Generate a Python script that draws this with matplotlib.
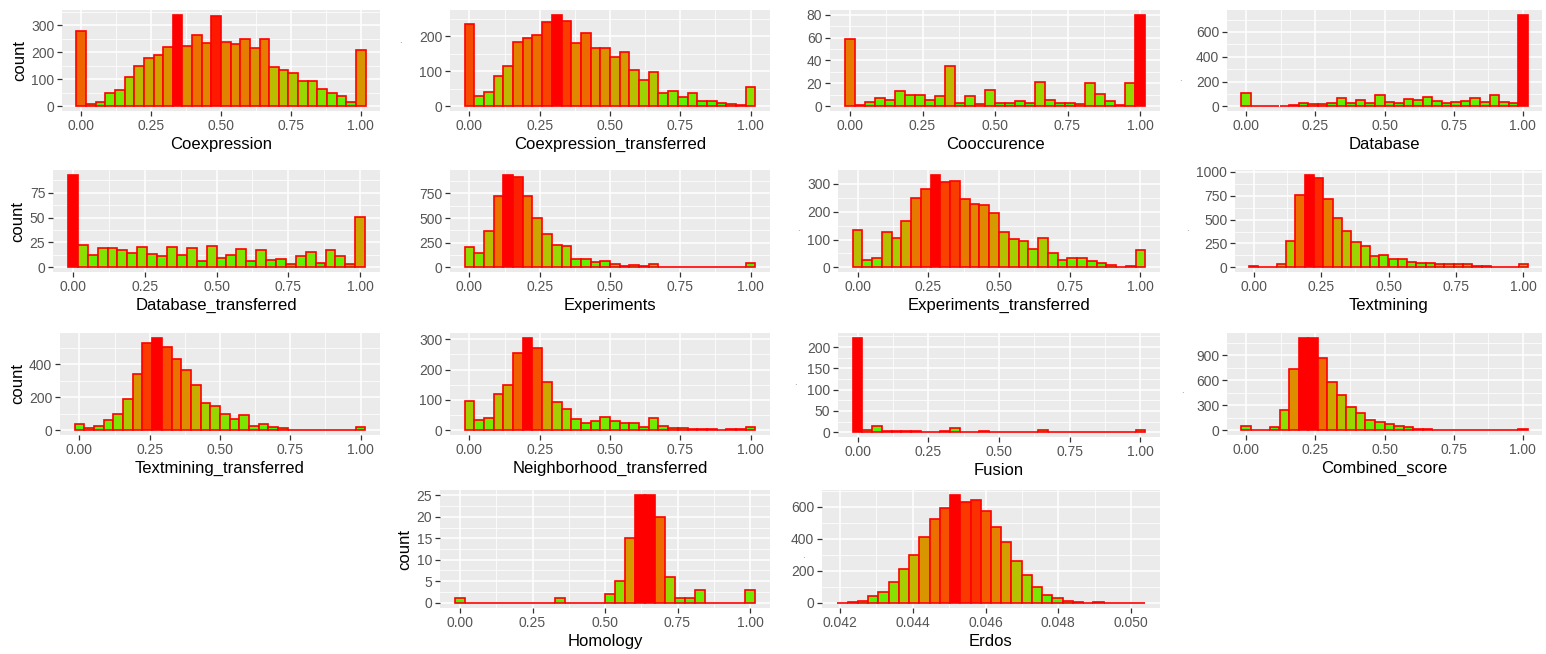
import numpy as np
import matplotlib
matplotlib.use('Agg')
import matplotlib.pyplot as plt
from matplotlib.ticker import MultipleLocator, FixedLocator

plt.rcParams['font.family'] = ['Liberation Sans', 'DejaVu Sans']

# ---- data: 30 bin counts per variable ----
unit_lo, unit_hi = 0.0, 1.0
erdos_lo, erdos_hi = 0.04207, 0.05023

coexpression = [280, 10, 15, 50, 60, 110, 150, 180, 190, 220, 340, 225, 265, 235, 335,
                240, 230, 250, 215, 250, 145, 135, 125, 95, 95, 65, 50, 40, 18, 210]
coexpression_transferred = [235, 30, 42, 88, 115, 185, 195, 205, 240, 262, 245, 180, 210, 168, 168,
                            140, 155, 105, 75, 97, 37, 45, 27, 37, 15, 15, 10, 8, 5, 55]
cooccurence = [59, 1, 4, 7, 6, 13, 10, 10, 6, 9, 35, 3, 9, 2, 14,
               3, 3, 5, 3, 21, 6, 3, 3, 2, 20, 11, 5, 1, 20, 80]
database = [105, 3, 2, 3, 5, 10, 25, 18, 22, 25, 65, 30, 55, 30, 95,
            38, 25, 60, 50, 78, 45, 30, 35, 45, 70, 38, 90, 38, 30, 740]
database_transferred = [93, 22, 12, 19, 19, 17, 14, 20, 13, 11, 20, 12, 19, 6, 21,
                        9, 12, 18, 6, 17, 7, 8, 3, 11, 15, 4, 17, 11, 3, 51]
experiments = [210, 145, 370, 720, 940, 920, 720, 500, 340, 225, 220, 80, 85, 55, 65,
               30, 15, 20, 15, 35, 5, 3, 3, 3, 2, 2, 2, 2, 2, 40]
experiments_transferred = [135, 28, 35, 128, 105, 168, 248, 280, 333, 307, 310, 245, 228, 224, 197,
                           127, 102, 94, 66, 106, 52, 25, 34, 33, 23, 17, 8, 3, 6, 62]
textmining = [15, 3, 5, 30, 275, 760, 970, 940, 720, 520, 380, 265, 225, 115, 125,
              85, 85, 60, 45, 45, 30, 30, 35, 30, 15, 10, 8, 5, 8, 40]
textmining_transferred = [40, 15, 25, 60, 100, 190, 340, 525, 560, 505, 430, 365, 275, 165, 145,
                          100, 70, 90, 28, 40, 18, 12, 3, 5, 5, 5, 3, 2, 5, 18]
neighborhood_transferred = [95, 35, 42, 118, 150, 255, 305, 270, 160, 92, 70, 37, 25, 32, 45,
                            30, 25, 25, 12, 40, 15, 8, 8, 5, 5, 5, 2, 4, 5, 10]
fusion = [222, 6, 14, 3, 3, 2, 2, 0, 1, 3, 11, 1, 1, 2, 1,
          1, 1, 1, 0, 6, 0, 1, 0, 0, 0, 1, 0, 0, 0, 6]
combined_score = [55, 2, 10, 35, 240, 730, 1110, 1110, 870, 580, 420, 280, 205, 125, 100,
                  80, 50, 35, 20, 15, 10, 8, 6, 4, 3, 2, 2, 1, 1, 20]
homology = [1, 0, 0, 0, 0, 0, 0, 0, 0, 0, 1, 0, 0, 0, 0,
            2, 5, 15, 25, 25, 20, 6, 1, 1, 3, 0, 0, 0, 0, 3]
erdos = [0, 2, 12, 40, 65, 130, 210, 300, 410, 520, 590, 670, 630, 640, 570,
         470, 380, 260, 170, 100, 50, 30, 10, 3, 0, 1, 0, 0, 0, 0]

unit_ticks = [0.0, 0.25, 0.5, 0.75, 1.0]
unit_labels = ['0.00', '0.25', '0.50', '0.75', '1.00']
erdos_ticks = [0.042, 0.044, 0.046, 0.048, 0.050]
erdos_labels = ['0.042', '0.044', '0.046', '0.048', '0.050']


# ---- ggplot-like green -> red gradient (Lab interpolation) ----
def srgb_to_lab(rgb):
    rgb = np.asarray(rgb, float)
    lin = np.where(rgb <= 0.04045, rgb / 12.92, ((rgb + 0.055) / 1.055) ** 2.4)
    m = np.array([[0.4124, 0.3576, 0.1805],
                  [0.2126, 0.7152, 0.0722],
                  [0.0193, 0.1192, 0.9505]])
    xyz = m @ lin / np.array([0.95047, 1.0, 1.08883])
    f = np.where(xyz > 0.008856, np.cbrt(xyz), 7.787 * xyz + 16 / 116)
    return np.array([116 * f[1] - 16, 500 * (f[0] - f[1]), 200 * (f[1] - f[2])])


def lab_to_srgb(lab):
    L, a, b = lab
    fy = (L + 16) / 116
    f = np.array([fy + a / 500, fy, fy - b / 200])
    xyz = np.where(f ** 3 > 0.008856, f ** 3, (f - 16 / 116) / 7.787)
    xyz = xyz * np.array([0.95047, 1.0, 1.08883])
    minv = np.array([[3.2406, -1.5372, -0.4986],
                     [-0.9689, 1.8758, 0.0415],
                     [0.0557, -0.2040, 1.0570]])
    lin = minv @ xyz
    rgb = np.where(lin <= 0.0031308, 12.92 * lin, 1.055 * np.clip(lin, 0, None) ** (1 / 2.4) - 0.055)
    return np.clip(rgb, 0, 1)


LOW = srgb_to_lab([0, 1, 0])
HIGH = srgb_to_lab([1, 0, 0])


def fill_colors(counts):
    c = np.asarray(counts, float)
    t = (c - c.min()) / (c.max() - c.min())
    return [lab_to_srgb(LOW + ti * (HIGH - LOW)) for ti in t]


W, H = 1546, 654
fig = plt.figure(figsize=(W / 100, H / 100), dpi=100)


def panel(box, lo, hi, counts, xlabel, ytick_step, xticks, xlabels, ylabel=None, dot=None):
    l, t, r, b = box
    ax = fig.add_axes([l / W, 1 - b / H, (r - l) / W, (b - t) / H])
    centers = np.linspace(lo, hi, len(counts))
    w = centers[1] - centers[0]
    ax.bar(centers, counts, width=w, color=fill_colors(counts), edgecolor='red', linewidth=1.2)

    x0, x1 = lo - w / 2, hi + w / 2
    pad = (x1 - x0) * 0.05
    ax.set_xlim(x0 - pad, x1 + pad)
    ymax = max(counts)
    ax.set_ylim(-0.05 * ymax, 1.05 * ymax)

    ax.set_facecolor('#EBEBEB')
    for s in ax.spines.values():
        s.set_visible(False)
    ax.set_axisbelow(True)
    ax.xaxis.set_major_locator(FixedLocator(xticks))
    ax.set_xticklabels(xlabels)
    xstep = xticks[1] - xticks[0]
    ax.xaxis.set_minor_locator(MultipleLocator(xstep / 2))
    ax.yaxis.set_major_locator(MultipleLocator(ytick_step))
    ax.yaxis.set_minor_locator(MultipleLocator(ytick_step / 2))
    ax.grid(which='major', color='white', linewidth=1.1)
    ax.grid(which='minor', color='white', linewidth=0.55)
    ax.tick_params(which='major', length=3.5, width=0.9, color='#333333',
                   labelsize=10, labelcolor='#555555', pad=2)
    ax.tick_params(which='minor', length=0)
    ax.set_xlabel(xlabel, fontsize=12, color='black', labelpad=3)
    if ylabel:
        ax.set_ylabel(ylabel, fontsize=12, color='black', labelpad=3)
    if dot:
        fig.text(dot[0] / W, 1 - dot[1] / H, '.', fontsize=7, color='#888888',
                 ha='center', va='center')
    return ax


# row 1
panel((62, 10, 380, 111), unit_lo, unit_hi, coexpression, 'Coexpression', 100,
      unit_ticks, unit_labels, ylabel='count')
panel((450, 10, 770, 111), unit_lo, unit_hi, coexpression_transferred, 'Coexpression_transferred', 100,
      unit_ticks, unit_labels, dot=(400, 40))
panel((830, 10, 1160, 111), unit_lo, unit_hi, cooccurence, 'Cooccurence', 20,
      unit_ticks, unit_labels)
panel((1227, 10, 1542, 111), unit_lo, unit_hi, database, 'Database', 200,
      unit_ticks, unit_labels, dot=(1180, 78))
# row 2
panel((53, 170, 380, 272), unit_lo, unit_hi, database_transferred, 'Database_transferred', 25,
      unit_ticks, unit_labels, ylabel='count')
panel((450, 170, 770, 272), unit_lo, unit_hi, experiments, 'Experiments', 250,
      unit_ticks, unit_labels)
panel((838, 170, 1160, 272), unit_lo, unit_hi, experiments_transferred, 'Experiments_transferred', 100,
      unit_ticks, unit_labels, dot=(798, 228))
panel((1235, 170, 1542, 272), unit_lo, unit_hi, textmining, 'Textmining', 250,
      unit_ticks, unit_labels, dot=(1187, 228))
# row 3
panel((60, 333, 380, 435), unit_lo, unit_hi, textmining_transferred, 'Textmining_transferred', 200,
      unit_ticks, unit_labels, ylabel='count')
panel((450, 333, 770, 435), unit_lo, unit_hi, neighborhood_transferred, 'Neighborhood_transferred', 100,
      unit_ticks, unit_labels)
panel((838, 333, 1160, 437), unit_lo, unit_hi, fusion, 'Fusion', 50,
      unit_ticks, unit_labels, dot=(795, 382))
panel((1227, 333, 1542, 435), unit_lo, unit_hi, combined_score, 'Combined_score', 300,
      unit_ticks, unit_labels, dot=(1182, 390))
# row 4
panel((440, 490, 770, 608), unit_lo, unit_hi, homology, 'Homology', 5,
      unit_ticks, unit_labels, ylabel='count')
panel((822, 490, 1160, 608), erdos_lo, erdos_hi, erdos, 'Erdos', 200,
      erdos_ticks, erdos_labels, dot=(803, 555))

fig.savefig('out.png', dpi=100)
